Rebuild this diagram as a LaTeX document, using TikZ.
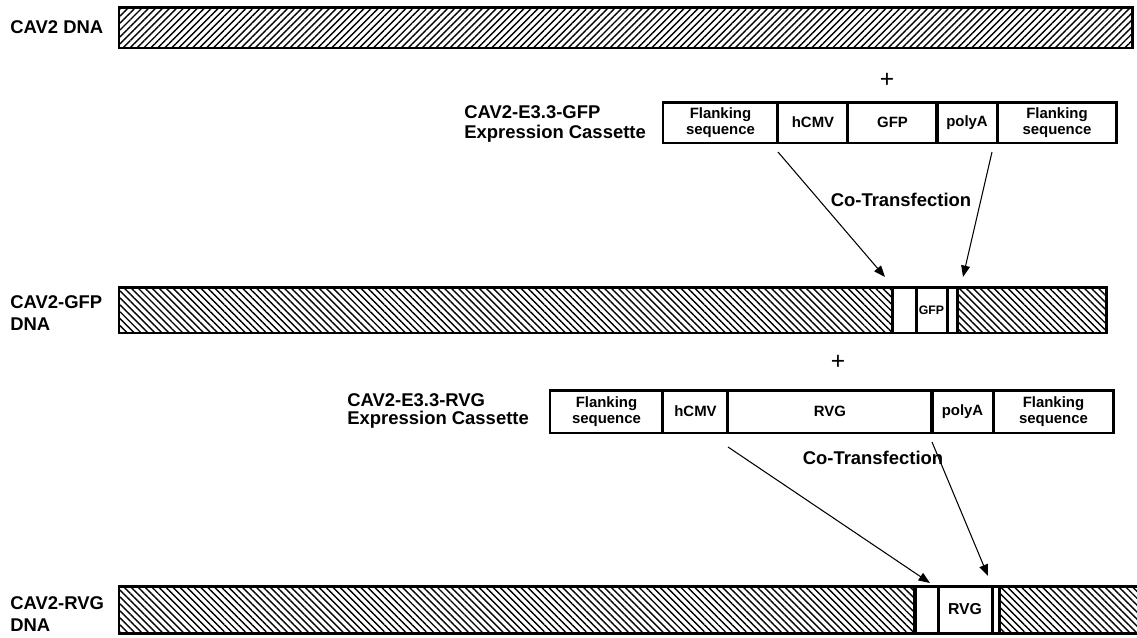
\documentclass[tikz,border=0pt]{standalone}
\usepackage{fontspec}
\setmainfont{Liberation Sans}
\usetikzlibrary{patterns.meta,arrows.meta}

\tikzset{
  seg/.style={draw,line width=1.7pt,outer sep=0pt,inner sep=0pt,anchor=west,
    font=\fontsize{8.5}{9.5}\selectfont\bfseries,align=center},
  hatchNE/.style={seg,pattern={Lines[angle=45,distance=2.8pt,line width=0.8pt]}},
  hatchNW/.style={seg,pattern={Lines[angle=-45,distance=2.8pt,line width=0.8pt]}},
  lbl/.style={inner sep=0pt,anchor=west,align=left,font=\fontsize{10.5}{13}\selectfont\bfseries},
  cotrans/.style={inner sep=0pt,font=\fontsize{10.5}{12}\selectfont\bfseries},
  plussign/.style={inner sep=0pt,font=\fontsize{14}{14}\selectfont},
  insarrow/.style={->,line width=0.6pt},
  >={Triangle[length=6.5pt,width=5pt]}
}

\begin{document}
\begin{tikzpicture}[x=0.02cm,y=-0.02cm]
    \useasboundingbox (0,0) rectangle (1137,637);

    % wild type genome
    \node[lbl] (lcav) at (10,27.5) {CAV2 DNA};
    \node[hatchNE,minimum width=20.28cm,minimum height=0.82cm] (cav) at (119,27.5) {};
    \node[plussign] (plusA) at (887,80) {+};

    % GFP cassette
    \node[lbl,font=\fontsize{10.5}{11.5}\selectfont\bfseries] (lcasA) at (464,124) {CAV2-E3.3-GFP\\Expression Cassette};
    \begin{scope}[every node/.append style={minimum height=0.82cm}]
    \node[seg,minimum width=2.30cm] (flA1) at (663,122.5) {Flanking\\sequence};
    \node[seg,minimum width=1.40cm] (hcmvA) at (778,122.5) {hCMV};
    \node[seg,minimum width=1.78cm] (gfpA) at (848,122.5) {GFP};
    \node[seg,minimum width=1.20cm] (polyaA) at (937,122.5) {polyA};
    \node[seg,minimum width=2.40cm] (flA2) at (997,122.5) {Flanking\\sequence};
    \end{scope}
    \node[cotrans] (coA) at (901,200) {Co-Transfection};

    % CAV2-GFP genome
    \node[lbl] (lgfpdna) at (10,313) {CAV2-GFP\\DNA};
    \begin{scope}[every node/.append style={minimum height=0.92cm}]
    \node[hatchNW,minimum width=15.48cm] (gfpL) at (119,310) {};
    \node[seg,minimum width=0.46cm] (gfpI1) at (893,310) {};
    \node[seg,minimum width=0.62cm,font=\fontsize{7}{8}\selectfont\bfseries] (gfpI2) at (916,310) {GFP};
    \node[seg,minimum width=0.20cm] (gfpI3) at (947,310) {};
    \node[hatchNW,minimum width=3.00cm] (gfpR) at (957,310) {};
    \end{scope}
    \draw[insarrow] ([yshift=-0.18cm]hcmvA.south west) -- ([xshift=-0.16cm,yshift=0.2cm]gfpI1.north west);
    \draw[insarrow] ([xshift=-0.1cm,yshift=-0.18cm]flA2.south west) -- ([xshift=0.12cm,yshift=0.2cm]gfpR.north west);
    \node[plussign] (plusB) at (838,362) {+};

    % RVG cassette
    \node[lbl,font=\fontsize{10.5}{10.5}\selectfont\bfseries] (lcasB) at (347,411) {CAV2-E3.3-RVG\\Expression Cassette};
    \begin{scope}[every node/.append style={minimum height=0.86cm}]
    \node[seg,minimum width=2.26cm] (flB1) at (550,411.5) {Flanking\\sequence};
    \node[seg,minimum width=1.30cm] (hcmvB) at (663,411.5) {hCMV};
    \node[seg,minimum width=4.08cm] (rvgB) at (728,411.5) {RVG};
    \node[seg,minimum width=1.22cm] (polyaB) at (932,411.5) {polyA};
    \node[seg,minimum width=2.42cm] (flB2) at (993,411.5) {Flanking\\sequence};
    \end{scope}
    \node[cotrans] (coB) at (873,458) {Co-Transfection};

    % CAV2-RVG genome
    \node[lbl] (lrvgdna) at (10,614) {CAV2-RVG\\DNA};
    \begin{scope}[every node/.append style={minimum height=0.94cm}]
    \node[hatchNW,minimum width=15.92cm] (rvgL) at (119,609.5) {};
    \node[seg,minimum width=0.46cm] (rvgI1) at (915,609.5) {};
    \node[seg,minimum width=1.08cm,font=\fontsize{9}{10}\selectfont\bfseries] (rvgI2) at (938,609.5) {RVG};
    \node[seg,minimum width=0.14cm] (rvgI3) at (992,609.5) {};
    \node[hatchNW,minimum width=2.90cm] (rvgR) at (999,609.5) {};
    \end{scope}
    \draw[insarrow] ([yshift=-0.28cm]rvgB.south west) -- ([xshift=-0.16cm,yshift=0.06cm]rvgI2.north west);
    \draw[insarrow] ([yshift=-0.18cm]polyaB.south west) -- ([xshift=-0.08cm,yshift=0.2cm]rvgI3.north west);
\end{tikzpicture}
\end{document}
